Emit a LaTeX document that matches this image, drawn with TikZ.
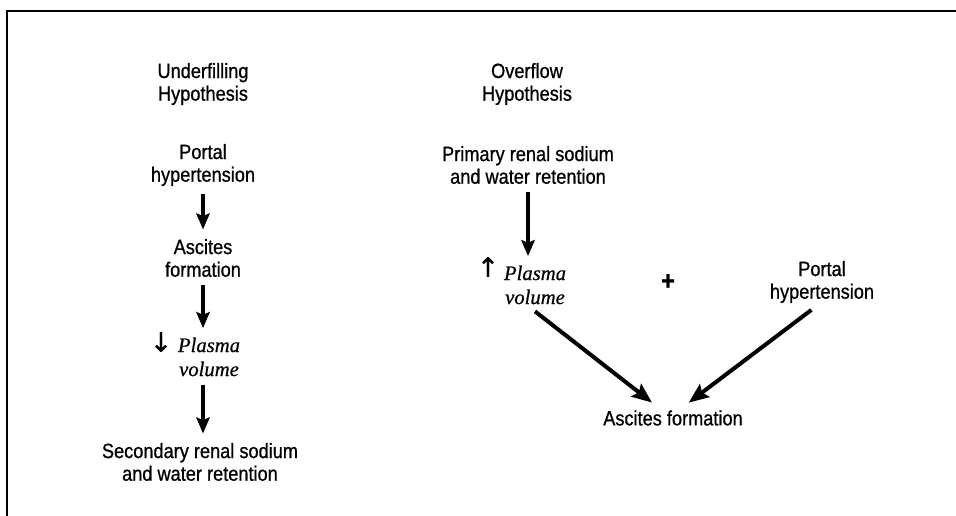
\documentclass[tikz,border=0pt]{standalone}
\usepackage{fontspec}
\setmainfont{Liberation Sans}[FakeStretch=0.88, FakeBold=0.8]
\newfontfamily\plasmafont{Liberation Serif}[FakeBold=0.6]
\newfontfamily\signfont{DejaVu Sans}[FakeBold=0.5]
\usetikzlibrary{positioning, arrows.meta}

\tikzset{
	labeltext/.style={align=center, inner sep=2pt, font=\fontsize{15.5}{17}\selectfont},
	plasmatext/.style={align=center, inner sep=2pt, font=\plasmafont\itshape\fontsize{15.5}{18}\selectfont},
	signtext/.style={inner sep=1pt, font=\signfont\fontsize{20}{22}\selectfont},
	flow/.style={-{Stealth[length=12pt, width=10pt, inset=2pt]}, line width=2.4pt, shorten <=4pt, shorten >=5pt},
	merge/.style={-{Stealth[length=15pt, width=12pt, inset=2.5pt]}, line width=3pt, shorten <=5pt, shorten >=6pt},
}

\begin{document}
\begin{tikzpicture}[x=0.75pt, y=-0.75pt]
		\useasboundingbox (0,0) rectangle (956,516);
		%frame
		\draw[line width=2.2pt] (7,516) -- (7,11) -- (956,11);
		%underfilling
		\node[labeltext] (uhyp) at (203,84) {Underfilling\\Hypothesis};
		\node[labeltext] (uportal) at (203,165) {Portal\\hypertension};
		\node[labeltext] (uasc) at (203,258) {Ascites\\formation};
		\node[plasmatext] (uplasma) at (209,357) {Plasma\\volume};
		\node[signtext] (udown) at (161,342) {↓};
		\node[labeltext] (usec) at (200,462) {Secondary renal sodium\\and water retention};
		\draw[flow] (uportal) -- (uasc);
		\draw[flow] (uasc) -- (uasc |- uplasma.north);
		\draw[flow] (uplasma.south -| uasc) -- (uasc |- usec.north);
		%overflow
		\node[labeltext] (ohyp) at (527,84) {Overflow\\Hypothesis};
		\node[labeltext] (oprim) at (528,165) {Primary renal sodium\\and water retention};
		\node[plasmatext] (oplasma) at (535,285) {Plasma\\volume};
		\node[signtext] (oup) at (488,267) {↑};
		\node[font=\fontsize{20}{22}\selectfont\bfseries] (plus) at (668,282) {+};
		\node[labeltext] (oportal) at (822,282) {Portal\\hypertension};
		\node[labeltext] (oasc) at (673,418) {Ascites formation};
		\draw[flow] (oprim) -- (oprim |- oplasma.north);
		\draw[merge] ([xshift=-4pt]oplasma.south) -- ([xshift=-11pt]oasc.north);
		\draw[merge] ([xshift=-4pt]oportal.south) -- ([xshift=7pt]oasc.north);
\end{tikzpicture}
\end{document}
